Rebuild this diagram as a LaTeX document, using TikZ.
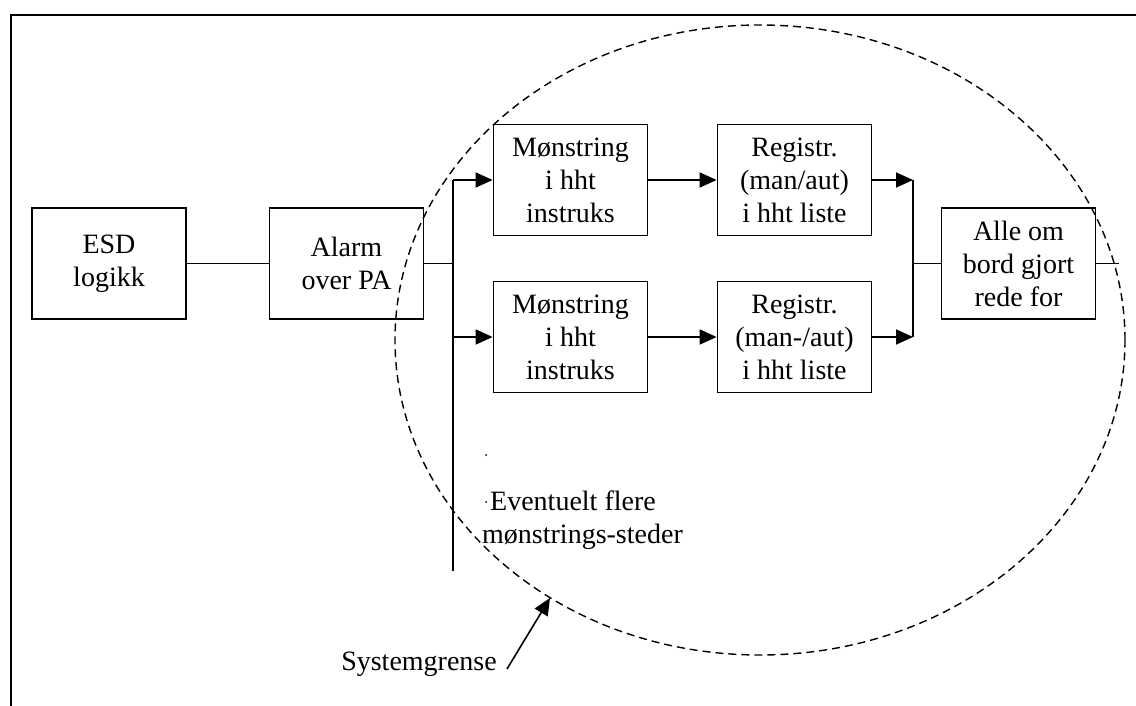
\documentclass[tikz,border=0pt]{standalone}
\usepackage{fontspec}
\setmainfont{Liberation Serif}
\usetikzlibrary{arrows.meta}
\begin{document}
\begin{tikzpicture}[x=1pt,y=-1pt,
  box/.style={draw,line width=1.8pt,minimum width=154pt,minimum height=111pt,align=center,inner sep=0pt,font=\fontsize{28}{33}\selectfont},
  conn/.style={line width=1.8pt},
  arr/.style={conn,-{Triangle[length=17pt,width=15pt]}},
  lbl/.style={font=\fontsize{28}{33}\selectfont,inner sep=0pt},
  frameline/.style={line width=2.4pt},
  bound/.style={line width=1.4pt,dash pattern=on 8pt off 5pt}]
\useasboundingbox (0,0) rectangle (1136,706);
% frame
\draw[frameline] (11,706) -- (11,15) -- (1136,15);
% boxes
\node[box] (esd)   at (109,263.5) {ESD\\logikk};
\node[box] (alarm) at (346.5,263.5) {Alarm\\over PA};
\node[box] (m1)    at (570.5,180) {Mønstring\\i hht\\instruks};
\node[box] (m2)    at (570.5,337) {Mønstring\\i hht\\instruks};
\node[box] (r1)    at (794.5,180) {Registr.\\(man/aut)\\i hht liste};
\node[box] (r2)    at (794.5,337) {Registr.\\(man-/aut)\\i hht liste};
\node[box] (alle)  at (1018.5,263.5) {Alle om\\bord gjort\\rede for};
% coordinates
\coordinate (sp)  at (453,263.5);
\coordinate (spt) at (453,180);
\coordinate (spb) at (453,337);
\coordinate (spe) at (453,571);
\coordinate (jt)  at (913,180);
\coordinate (jb)  at (913,337);
\coordinate (jm)  at (913,263.5);
\coordinate (out) at (1119,263.5);
% connectors
\draw[conn] (esd.east) -- (alarm.west);
\draw[conn] (alarm.east) -- (sp);
\draw[conn] (spt) -- (spe);
\draw[arr] (spt) -- (m1.west);
\draw[arr] (spb) -- (m2.west);
\draw[arr] (m1.east) -- (r1.west);
\draw[arr] (m2.east) -- (r2.west);
\draw[arr] (r1.east) -- (jt);
\draw[arr] (r2.east) -- (jb);
\draw[conn] (jt) -- (jb);
\draw[conn] (jm) -- (alle.west);
\draw[conn] (alle.east) -- (out);
% system boundary
\draw[bound] (760,340) ellipse [x radius=365pt, y radius=315pt];
% small dots
\fill (486,455) circle (1pt);
\fill (486,502) circle (1pt);
% labels
\node[lbl,anchor=base west] (ev1) at (490,510) {Eventuelt flere};
\node[lbl,anchor=base west] (ev2) at (482,543) {mønstrings-steder};
\node[lbl,anchor=base east] (sg) at (497,670) {Systemgrense};
\coordinate (sgtail) at (507,669);
\coordinate (sgtip) at (550,598);
\draw[conn,line width=1.6pt,-{Triangle[length=17pt,width=15pt]}] (sgtail) -- (sgtip);
\end{tikzpicture}
\end{document}
